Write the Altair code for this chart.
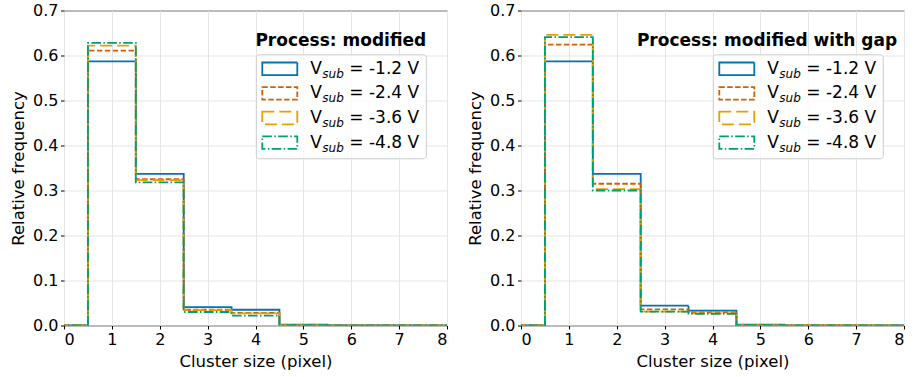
import altair as alt
import pandas as pd

# ---------------- data ----------------
cluster_sizes = list(range(0, 11))
vsub_labels = ["-1.2 V", "-2.4 V", "-3.6 V", "-4.8 V"]
colors = ["#0173B2", "#D55E00", "#E69F00", "#029E73"]
dashes = [[1, 0], [5.5, 2.4], [12, 5], [9.6, 2.4, 1.5, 2.4]]

# Process: modified
mod_m12 = [0, 0.587, 0.337, 0.041, 0.035, 0.002, 0, 0, 0, 0, 0]
mod_m24 = [0, 0.611, 0.325, 0.035, 0.028, 0.001, 0, 0, 0, 0, 0]
mod_m36 = [0, 0.622, 0.323, 0.034, 0.027, 0.001, 0, 0, 0, 0, 0]
mod_m48 = [0, 0.628, 0.318, 0.030, 0.022, 0.001, 0, 0, 0, 0, 0]

# Process: modified with gap
gap_m12 = [0, 0.587, 0.337, 0.044, 0.033, 0.002, 0, 0, 0, 0, 0]
gap_m24 = [0, 0.624, 0.315, 0.036, 0.029, 0.001, 0, 0, 0, 0, 0]
gap_m36 = [0, 0.646, 0.303, 0.031, 0.027, 0.001, 0, 0, 0, 0, 0]
gap_m48 = [0, 0.641, 0.300, 0.031, 0.026, 0.001, 0, 0, 0, 0, 0]

panels = [
    ("Process: modified", [mod_m12, mod_m24, mod_m36, mod_m48], 276.8),
    ("Process: modified with gap", [gap_m12, gap_m24, gap_m36, gap_m48], 246.0),
]

FONT = "DejaVu Sans"
W, H = 383, 315


def step_frame(values):
    edges = [s - 0.5 for s in cluster_sizes] + [cluster_sizes[-1] + 0.5]
    vals = list(values) + [0]
    return pd.DataFrame({"edge": edges, "freq": vals, "idx": range(len(vals))})


def panel(title, series, title_x):
    layers = []
    xs = alt.Scale(domain=[0, 8], nice=False, zero=False)
    ys = alt.Scale(domain=[0, 0.7], nice=False)
    for vals, col, dash in zip(series, colors, dashes):
        layers.append(
            alt.Chart(step_frame(vals))
            .mark_line(interpolate="step-after", strokeWidth=1.8, clip=True,
                       color=col, strokeDash=dash)
            .encode(
                x=alt.X("edge:Q", scale=xs,
                        axis=alt.Axis(values=list(range(0, 9)), title="Cluster size (pixel)")),
                y=alt.Y("freq:Q", scale=ys,
                        axis=alt.Axis(values=[i / 10 for i in range(8)], format=".1f",
                                      title="Relative frequency")),
                order=alt.Order("idx:Q"),
            )
        )
    one = pd.DataFrame({"a": [0]})
    # legend box
    bx0, bx1, by0, by1 = 192.3, 362.3, 44.3, 148.3
    layers.append(
        alt.Chart(one).mark_rect(fill="white", fillOpacity=0.8, stroke="#cccccc",
                                 strokeWidth=1, cornerRadius=3)
        .encode(x=alt.value(bx0), x2=alt.value(bx1), y=alt.value(by0), y2=alt.value(by1))
    )
    layers.append(
        alt.Chart(one).mark_text(text=title, font=FONT, fontSize=17, fontWeight="bold",
                                 align="center", baseline="middle", color="black")
        .encode(x=alt.value(title_x), y=alt.value(30.3))
    )
    for i, (lab, col, dash) in enumerate(zip(vsub_labels, colors, dashes)):
        yc = 58.3 + i * 24.6
        layers.append(
            alt.Chart(one).mark_rect(fillOpacity=0, stroke=col, strokeDash=dash, strokeWidth=1.8)
            .encode(x=alt.value(bx0 + 6), x2=alt.value(bx0 + 41),
                    y=alt.value(yc - 6.3), y2=alt.value(yc + 6.3))
        )
        lx = bx0 + 54
        layers.append(
            alt.Chart(one).mark_text(text="V", font=FONT, fontSize=17, align="left",
                                     baseline="middle", color="black")
            .encode(x=alt.value(lx), y=alt.value(yc))
        )
        layers.append(
            alt.Chart(one).mark_text(text="sub", font=FONT, fontSize=12, fontStyle="italic",
                                     align="left", baseline="middle", color="black")
            .encode(x=alt.value(lx + 12), y=alt.value(yc + 5))
        )
        layers.append(
            alt.Chart(one).mark_text(text="= " + lab, font=FONT, fontSize=17, align="left",
                                     baseline="middle", color="black")
            .encode(x=alt.value(lx + 39), y=alt.value(yc))
        )
    return alt.layer(*layers).properties(width=W, height=H)


chart = (
    alt.hconcat(*[panel(t, s, tx) for t, s, tx in panels], spacing=19)
    .properties(padding={"left": 10, "top": 1.5, "right": 2, "bottom": 5}, background="white")
    .configure_view(stroke="#222222", strokeWidth=1)
    .configure_axis(
        labelFont=FONT, titleFont=FONT, labelFontSize=16, titleFontSize=16.5,
        titleFontWeight="normal", labelColor="black", titleColor="black",
        tickColor="black", tickSize=3.5, labelPadding=2.5, titlePadding=6,
        domain=False, gridColor="#e5e5e5", gridWidth=1,
    )
)

chart.save("out.html", embed_options={"renderer": "svg", "actions": False})
